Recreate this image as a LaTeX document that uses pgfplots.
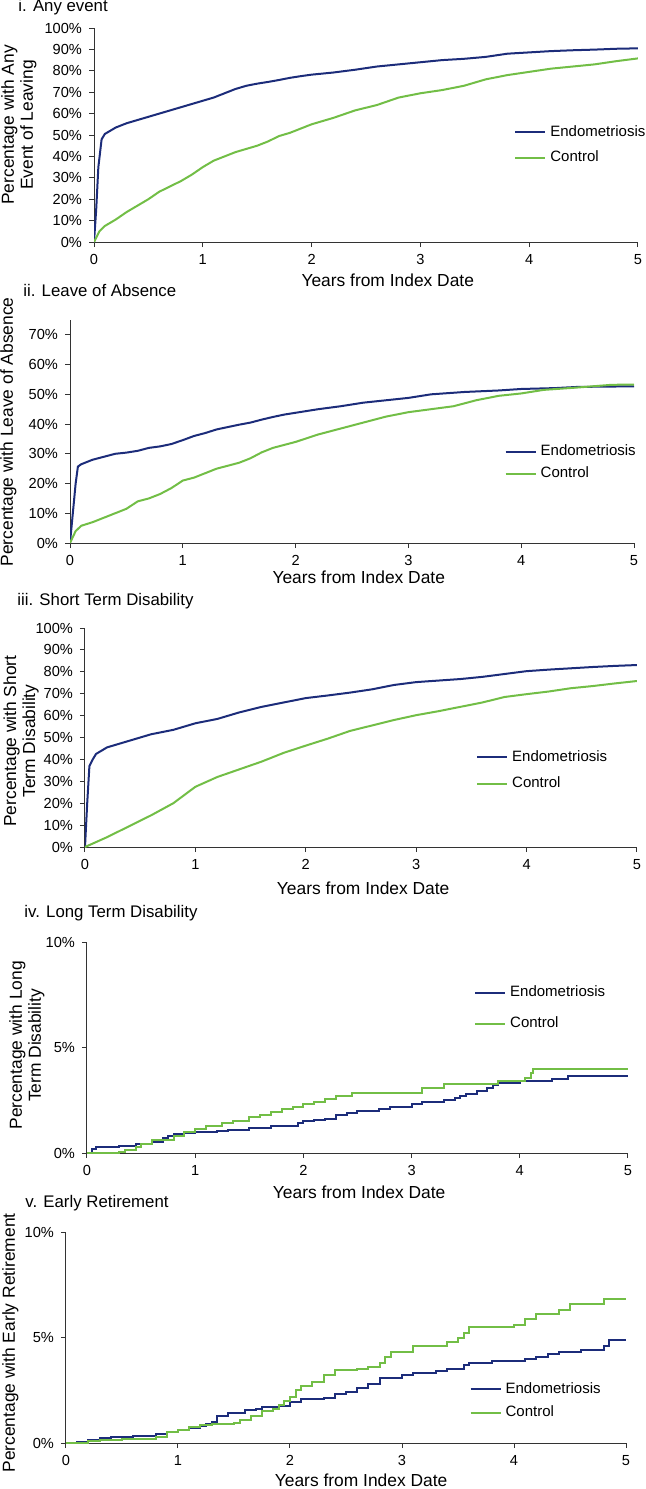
\documentclass[border=0pt]{standalone}
\usepackage{fontspec}
\setmainfont{Liberation Sans}
\usepackage{pgfplots}
\pgfplotsset{compat=1.18}

\definecolor{endo}{RGB}{28,44,122}
\definecolor{ctrl}{RGB}{114,190,70}

\pgfplotsset{
  km/.style={
    scale only axis, anchor=south west,
    axis lines=left, axis line style={-, line width=0.5pt, black!80},
    tick align=outside, major tick length=2.5pt,
    tick style={black!80, line width=0.5pt},
    xmin=0, xmax=5, xtick={0,1,2,3,4,5},
    ymin=0,
    /pgf/number format/assume math mode=true,
    yticklabel={\pgfmathprintnumber{\tick}\%},
    tick label style={font=\fontsize{7.3}{8}\selectfont},
    label style={font=\fontsize{8.7}{9.5}\selectfont},
    ylabel style={align=center, anchor=south, inner sep=0pt},
    xlabel={Years from Index Date},
    xlabel style={anchor=center, inner sep=0pt},
    legend style={draw=none, fill=none, inner sep=0pt,
      font=\fontsize{7.5}{8}\selectfont, anchor=west},
    legend cell align=left,
    legend image code/.code={\draw[#1] (0pt,0pt) -- (15pt,0pt);},
  },
  endo/.style={color=endo, line width=1pt},
  ctrl/.style={color=ctrl, line width=1pt},
}

\begin{document}
\begin{tikzpicture}
\useasboundingbox (0,0) rectangle (323pt,-744.5pt);
\tikzset{ttl/.style={anchor=west, inner sep=0pt, font=\fontsize{8.4}{9}\selectfont}}

% i. Any event
\node[ttl] at (9pt,-3.5pt) {i. Any event};
\begin{axis}[km, at={(47pt,-121pt)}, width=272pt, height=107pt,
  ymax=100, ytick={0,10,...,100},
  ylabel={Percentage with Any\\Event of Leaving},
  ylabel style={at={(axis description cs:-0.105,0.547)}},
  xlabel style={at={(axis description cs:0.540,0)}, yshift=-19pt},
  legend style={at={(0.772,0.453)}, row sep=2pt}]
\addplot[endo] coordinates {(0,0)(0.02,15)(0.04,35)(0.07,48)(0.1,50.5)(0.2,53.5)(0.3,55.5)(0.4,57)(0.5,58.5)(0.6,60)(0.7,61.5)(0.8,63)(0.9,64.5)(1.0,66)(1.1,67.5)(1.2,69.5)(1.3,71.5)(1.4,73)(1.5,74)(1.6,74.8)(1.7,75.7)(1.8,76.7)(1.9,77.5)(2.0,78.2)(2.2,79.2)(2.4,80.5)(2.6,82)(2.8,83)(3.0,84)(3.2,85)(3.4,85.6)(3.6,86.5)(3.8,88)(4.0,88.6)(4.2,89.2)(4.4,89.6)(4.6,89.9)(4.8,90.3)(5.0,90.5)};
\addlegendentry{Endometriosis}
\addplot[ctrl] coordinates {(0,0)(0.05,5)(0.1,7.5)(0.2,10.5)(0.3,14)(0.4,17)(0.5,20)(0.6,23.5)(0.7,26)(0.8,28.5)(0.9,31.5)(1.0,35)(1.1,38)(1.2,40)(1.3,42)(1.4,43.5)(1.5,45)(1.6,47)(1.7,49.5)(1.8,51)(1.9,53)(2.0,55)(2.2,58)(2.4,61.5)(2.6,64)(2.8,67.5)(3.0,69.5)(3.2,71)(3.4,73)(3.6,76)(3.8,78)(4.0,79.5)(4.2,81)(4.4,82)(4.6,83)(4.8,84.5)(5.0,85.8)};
\addlegendentry{Control}
\end{axis}

% ii. Leave of Absence
\node[ttl] at (11.5pt,-145pt) {ii. Leave of Absence};
\begin{axis}[km, at={(35pt,-271.5pt)}, width=282pt, height=111.5pt,
  ymax=75, ytick={0,10,...,70},
  ylabel={Percentage with Leave of Absence},
  ylabel style={at={(axis description cs:-0.094,0.498)}},
  xlabel style={at={(axis description cs:0.512,0)}, yshift=-17pt},
  legend style={at={(0.770,0.359)}, row sep=0pt}]
\addplot[endo] coordinates {(0,0)(0.02,8)(0.05,20)(0.07,25.7)(0.1,26.5)(0.2,28)(0.3,29)(0.4,30)(0.5,30.4)(0.6,31)(0.7,32)(0.8,32.5)(0.9,33.3)(1.0,34.6)(1.1,36)(1.2,37)(1.3,38.2)(1.4,39)(1.5,39.8)(1.6,40.5)(1.7,41.5)(1.8,42.4)(1.9,43.2)(2.0,43.8)(2.2,45)(2.4,46)(2.6,47.2)(2.8,48)(3.0,48.8)(3.2,50)(3.5,50.8)(3.8,51.3)(4.0,51.8)(4.3,52.1)(4.5,52.5)(5.0,52.7)};
\addlegendentry{Endometriosis}
\addplot[ctrl] coordinates {(0,0)(0.05,4)(0.1,5.8)(0.2,7)(0.3,8.5)(0.4,10)(0.5,11.5)(0.6,14)(0.7,15)(0.8,16.5)(0.9,18.5)(1.0,21)(1.1,22)(1.2,23.5)(1.3,25)(1.4,26)(1.5,27)(1.6,28.5)(1.7,30.5)(1.8,32)(1.9,33)(2.0,34)(2.2,36.5)(2.4,38.5)(2.6,40.5)(2.8,42.5)(3.0,44)(3.2,45)(3.4,46)(3.6,48)(3.8,49.5)(4.0,50.3)(4.2,51.5)(4.5,52.3)(4.8,53.2)(5.0,53.3)};
\addlegendentry{Control}
\end{axis}

% iii. Short Term Disability
\node[ttl] at (8.5pt,-300.5pt) {iii. Short Term Disability};
\begin{axis}[km, at={(42.5pt,-423.5pt)}, width=276pt, height=109.5pt,
  ymax=100, ytick={0,10,...,100},
  ylabel={Percentage with Short\\Term Disability},
  ylabel style={at={(axis description cs:-0.083,0.484)}},
  xlabel style={at={(axis description cs:0.504,0)}, yshift=-20.5pt},
  legend style={at={(0.708,0.349)}, row sep=2.5pt}]
\addplot[endo] coordinates {(0,0)(0.02,20)(0.04,37)(0.07,40)(0.1,42.5)(0.15,44)(0.2,45.5)(0.3,47)(0.4,48.5)(0.5,50)(0.6,51.5)(0.8,53.5)(1.0,56.5)(1.2,58.5)(1.4,61.5)(1.6,64)(1.8,66)(2.0,68)(2.2,69.2)(2.4,70.5)(2.6,72)(2.8,74)(3.0,75.3)(3.2,76)(3.4,76.7)(3.6,77.7)(3.8,79)(4.0,80.3)(4.2,81)(4.4,81.6)(4.6,82.2)(4.8,82.7)(5.0,83.1)};
\addlegendentry{Endometriosis}
\addplot[ctrl] coordinates {(0,0)(0.2,4.5)(0.4,9.5)(0.6,14.5)(0.8,20)(1.0,27.5)(1.2,32)(1.4,35.5)(1.6,39)(1.8,43)(2.0,46.3)(2.2,49.5)(2.4,53)(2.6,55.5)(2.8,58)(3.0,60.2)(3.2,62)(3.4,64)(3.6,66)(3.8,68.5)(4.0,69.8)(4.2,71)(4.4,72.5)(4.6,73.5)(4.8,74.7)(5.0,75.8)};
\addlegendentry{Control}
\end{axis}

% iv. Long Term Disability
\node[ttl] at (12pt,-456.5pt) {iv. Long Term Disability};
\begin{axis}[km, at={(43.5pt,-576.5pt)}, width=270.5pt, height=105.5pt,
  ymax=10, ytick={0,5,10},
  ylabel={Percentage with Long\\Term Disability},
  ylabel style={at={(axis description cs:-0.078,0.51)}},
  xlabel style={at={(axis description cs:0.503,0)}, yshift=-19.5pt},
  legend style={at={(0.715,0.685)}, row sep=4.5pt}]
\addplot[endo, const plot] coordinates {(0,0)(0.05,0.2)(0.08,0.3)(0.3,0.35)(0.45,0.45)(0.6,0.5)(0.7,0.7)(0.75,0.8)(0.8,0.9)(0.9,0.95)(1.0,1.0)(1.2,1.05)(1.3,1.1)(1.5,1.2)(1.7,1.3)(1.95,1.4)(2.0,1.5)(2.1,1.55)(2.2,1.6)(2.3,1.8)(2.4,1.9)(2.5,2.0)(2.7,2.1)(2.8,2.2)(3.0,2.3)(3.1,2.4)(3.3,2.5)(3.4,2.6)(3.45,2.7)(3.5,2.8)(3.6,2.95)(3.7,3.1)(3.75,3.2)(3.8,3.3)(4.0,3.4)(4.3,3.5)(4.45,3.67)(5.0,3.67)};
\addlegendentry{Endometriosis}
\addplot[ctrl, const plot] coordinates {(0,0)(0.3,0.05)(0.35,0.15)(0.45,0.3)(0.5,0.45)(0.6,0.6)(0.8,0.8)(0.9,1.0)(1.0,1.15)(1.1,1.3)(1.25,1.4)(1.35,1.5)(1.5,1.7)(1.6,1.8)(1.7,1.95)(1.8,2.1)(1.9,2.2)(2.0,2.3)(2.1,2.4)(2.2,2.55)(2.3,2.7)(2.45,2.83)(3.1,3.07)(3.3,3.26)(3.8,3.43)(4.05,3.55)(4.1,3.8)(4.12,4.0)(5.0,4.0)};
\addlegendentry{Control}
\end{axis}

% v. Early Retirement
\node[ttl] at (12.5pt,-601.5pt) {v. Early Retirement};
\begin{axis}[km, at={(33pt,-721.5pt)}, width=280pt, height=105.5pt,
  ymax=10, ytick={0,5,10},
  ylabel={Percentage with Early Retirement},
  ylabel style={at={(axis description cs:-0.084,0.474)}},
  xlabel style={at={(axis description cs:0.527,0)}, yshift=-18.5pt},
  legend style={at={(0.720,0.199)}, row sep=1pt}]
\addplot[endo, const plot] coordinates {(0,0)(0.1,0.05)(0.2,0.15)(0.3,0.25)(0.4,0.3)(0.6,0.35)(0.8,0.45)(0.9,0.5)(1.0,0.6)(1.1,0.7)(1.2,0.8)(1.25,0.9)(1.3,1.0)(1.35,1.3)(1.45,1.4)(1.6,1.55)(1.7,1.6)(1.75,1.7)(1.9,1.75)(2.0,1.95)(2.1,2.1)(2.3,2.15)(2.4,2.3)(2.5,2.4)(2.6,2.6)(2.7,2.8)(2.8,3.1)(3.0,3.2)(3.1,3.3)(3.3,3.4)(3.4,3.5)(3.55,3.7)(3.6,3.8)(3.8,3.9)(4.1,4.0)(4.2,4.1)(4.3,4.2)(4.4,4.3)(4.6,4.4)(4.8,4.6)(4.85,4.9)(5.0,4.9)};
\addlegendentry{Endometriosis}
\addplot[ctrl, const plot] coordinates {(0,0)(0.2,0.1)(0.3,0.15)(0.5,0.2)(0.8,0.3)(0.9,0.5)(1.0,0.6)(1.1,0.75)(1.2,0.85)(1.3,0.9)(1.5,0.95)(1.55,1.1)(1.65,1.3)(1.75,1.5)(1.85,1.6)(1.9,1.8)(1.95,2.0)(2.0,2.2)(2.05,2.5)(2.1,2.7)(2.2,2.9)(2.3,3.2)(2.4,3.44)(2.6,3.5)(2.7,3.6)(2.8,3.8)(2.85,4.1)(2.9,4.3)(3.1,4.6)(3.4,4.8)(3.5,5.0)(3.55,5.2)(3.6,5.5)(4.0,5.6)(4.1,5.9)(4.2,6.1)(4.4,6.3)(4.5,6.57)(4.8,6.84)(5.0,6.84)};
\addlegendentry{Control}
\end{axis}
\end{tikzpicture}
\end{document}
